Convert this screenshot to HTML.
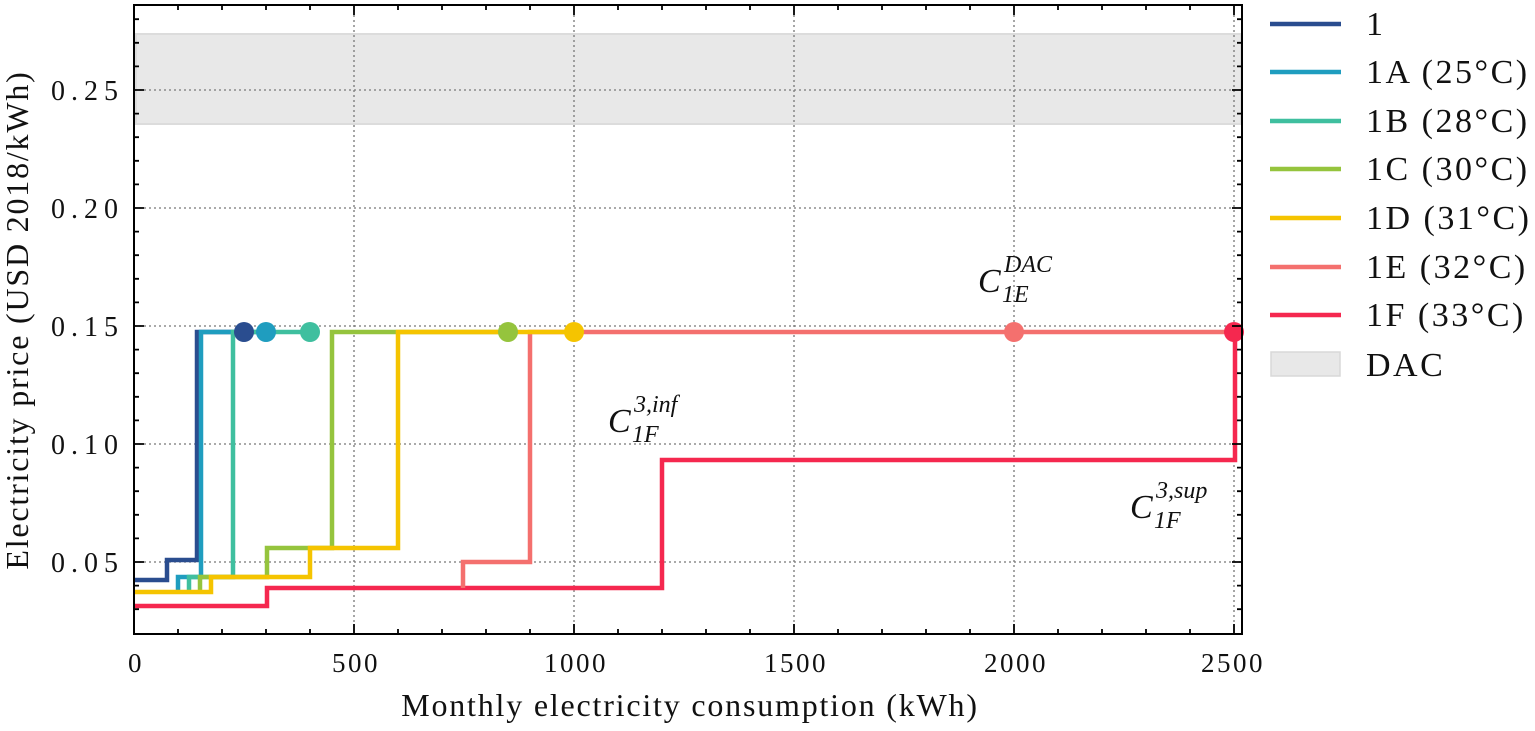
<!DOCTYPE html>
<html><head><meta charset="utf-8"><style>
html,body{margin:0;padding:0;background:#fff;}
svg{display:block;font-family:"Liberation Serif",serif;}
.t{font-size:27px;letter-spacing:2.5px;fill:#111;}
.ty{font-size:28px;letter-spacing:6px;fill:#111;}
.lg{font-size:34px;letter-spacing:2.5px;fill:#111;}
</style></head><body>
<svg width="1535" height="731" viewBox="0 0 1535 731" xmlns="http://www.w3.org/2000/svg">
<rect x="136" y="34" width="1105" height="90" fill="#e8e8e8" stroke="#dcdcdc" stroke-width="2"/>
<g stroke="#777" stroke-width="1.3" stroke-dasharray="2,3">
<line x1="354" y1="5" x2="354" y2="634"/><line x1="574" y1="5" x2="574" y2="634"/>
<line x1="794" y1="5" x2="794" y2="634"/><line x1="1014" y1="5" x2="1014" y2="634"/>
<line x1="1234" y1="5" x2="1234" y2="634"/>
<line x1="134" y1="90" x2="1242" y2="90"/><line x1="134" y1="208" x2="1242" y2="208"/>
<line x1="134" y1="326" x2="1242" y2="326"/><line x1="134" y1="444" x2="1242" y2="444"/>
<line x1="134" y1="562" x2="1242" y2="562"/>
</g>
<g fill="none" stroke-width="4.5" stroke-linejoin="miter">
<polyline stroke="#f5284f" points="134,606 267,606 267,588 662,588 662,460 1235,460 1235,332"/>
<polyline stroke="#f4706e" points="463,588 463,562 530,562 530,332 1236,332"/>
<polyline stroke="#2a4d8f" points="134,580 167,580 167,560 197,560 197,332 244,332"/>
<polyline stroke="#1f9dbf" points="178,592 178,577 201,577 201,332 266,332"/>
<polyline stroke="#3fbf9f" points="189,592 189,577 233,577 233,332 310,332"/>
<polyline stroke="#95c43d" points="200,592 200,577 267,577 267,548 332,548 332,332 508,332"/>
<polyline stroke="#f5c400" points="134,592 211,592 211,577 310,577 310,548 398,548 398,332 574,332"/>
</g>
<g>
<circle cx="244" cy="332" r="10" fill="#2a4d8f"/>
<circle cx="266" cy="332" r="10" fill="#1f9dbf"/>
<circle cx="310" cy="332" r="10" fill="#3fbf9f"/>
<circle cx="508" cy="332" r="10" fill="#95c43d"/>
<circle cx="574" cy="332" r="10" fill="#f5c400"/>
<circle cx="1014" cy="332" r="10" fill="#f4706e"/>
<circle cx="1234" cy="332" r="10" fill="#f5284f"/>
</g>
<rect x="134" y="5" width="1108" height="629" fill="none" stroke="#000" stroke-width="2"/>
<g stroke="#000" stroke-width="1.8">
<path d="M354,634v-10M574,634v-10M794,634v-10M1014,634v-10M1234,634v-10M354,5v10M574,5v10M794,5v10M1014,5v10M1234,5v10"/>
<path d="M178,634v-5M222,634v-5M266,634v-5M310,634v-5M398,634v-5M442,634v-5M486,634v-5M530,634v-5M618,634v-5M662,634v-5M706,634v-5M750,634v-5M838,634v-5M882,634v-5M926,634v-5M970,634v-5M1058,634v-5M1102,634v-5M1146,634v-5M1190,634v-5
M178,5v5M222,5v5M266,5v5M310,5v5M398,5v5M442,5v5M486,5v5M530,5v5M618,5v5M662,5v5M706,5v5M750,5v5M838,5v5M882,5v5M926,5v5M970,5v5M1058,5v5M1102,5v5M1146,5v5M1190,5v5"/>
<path d="M134,90h10M134,208h10M134,326h10M134,444h10M134,562h10M1242,90h-10M1242,208h-10M1242,326h-10M1242,444h-10M1242,562h-10"/>
<path d="M134,19.2h5M134,42.8h5M134,66.4h5M134,113.6h5M134,137.2h5M134,160.8h5M134,184.4h5M134,231.6h5M134,255.2h5M134,278.8h5M134,302.4h5M134,349.6h5M134,373.2h5M134,396.8h5M134,420.4h5M134,467.6h5M134,491.2h5M134,514.8h5M134,538.4h5M134,585.6h5M134,609.2h5
M1242,19.2h-5M1242,42.8h-5M1242,66.4h-5M1242,113.6h-5M1242,137.2h-5M1242,160.8h-5M1242,184.4h-5M1242,231.6h-5M1242,255.2h-5M1242,278.8h-5M1242,302.4h-5M1242,349.6h-5M1242,373.2h-5M1242,396.8h-5M1242,420.4h-5M1242,467.6h-5M1242,491.2h-5M1242,514.8h-5M1242,538.4h-5M1242,585.6h-5M1242,609.2h-5"/>
</g>
<g class="ty" text-anchor="end">
<text x="124" y="100">0.25</text><text x="124" y="218">0.20</text><text x="124" y="336">0.15</text>
<text x="124" y="454">0.10</text><text x="124" y="572">0.05</text>
</g>
<g class="t" text-anchor="middle">
<text x="136" y="672">0</text><text x="356" y="672">500</text><text x="576" y="672">1000</text>
<text x="796" y="672">1500</text><text x="1016" y="672">2000</text><text x="1233" y="672">2500</text>
</g>
<text x="690" y="716" text-anchor="middle" font-size="32" letter-spacing="1.8" fill="#111">Monthly electricity consumption (kWh)</text>
<text transform="translate(28,320) rotate(-90)" text-anchor="middle" font-size="32" letter-spacing="1.8" fill="#111">Electricity price (USD 2018/kWh)</text>
<g font-style="italic" fill="#111">
<text x="978" y="292" font-size="34">C</text><text x="1004" y="272" font-size="24">DAC</text><text x="1002" y="302" font-size="24">1E</text>
<text x="608" y="432" font-size="34">C</text><text x="634" y="412" font-size="24">3,inf</text><text x="632" y="442" font-size="24">1F</text>
<text x="1130" y="518" font-size="34">C</text><text x="1156" y="498" font-size="24">3,sup</text><text x="1154" y="528" font-size="24">1F</text>
</g>
<g stroke-width="4.5">
<line x1="1270" y1="24" x2="1341" y2="24" stroke="#2a4d8f"/>
<line x1="1270" y1="72" x2="1341" y2="72" stroke="#1f9dbf"/>
<line x1="1270" y1="121" x2="1341" y2="121" stroke="#3fbf9f"/>
<line x1="1270" y1="169" x2="1341" y2="169" stroke="#95c43d"/>
<line x1="1270" y1="218" x2="1341" y2="218" stroke="#f5c400"/>
<line x1="1270" y1="267" x2="1341" y2="267" stroke="#f4706e"/>
<line x1="1270" y1="315" x2="1341" y2="315" stroke="#f5284f"/>
</g>
<rect x="1271" y="352" width="69" height="24" fill="#e8e8e8" stroke="#d8d8d8" stroke-width="1.5"/>
<g class="lg">
<text x="1366" y="35">1</text>
<text x="1366" y="83">1A (25°C)</text>
<text x="1366" y="132">1B (28°C)</text>
<text x="1366" y="180">1C (30°C)</text>
<text x="1366" y="229">1D (31°C)</text>
<text x="1366" y="278">1E (32°C)</text>
<text x="1366" y="326">1F (33°C)</text>
<text x="1366" y="376">DAC</text>
</g>
</svg>
</body></html>
